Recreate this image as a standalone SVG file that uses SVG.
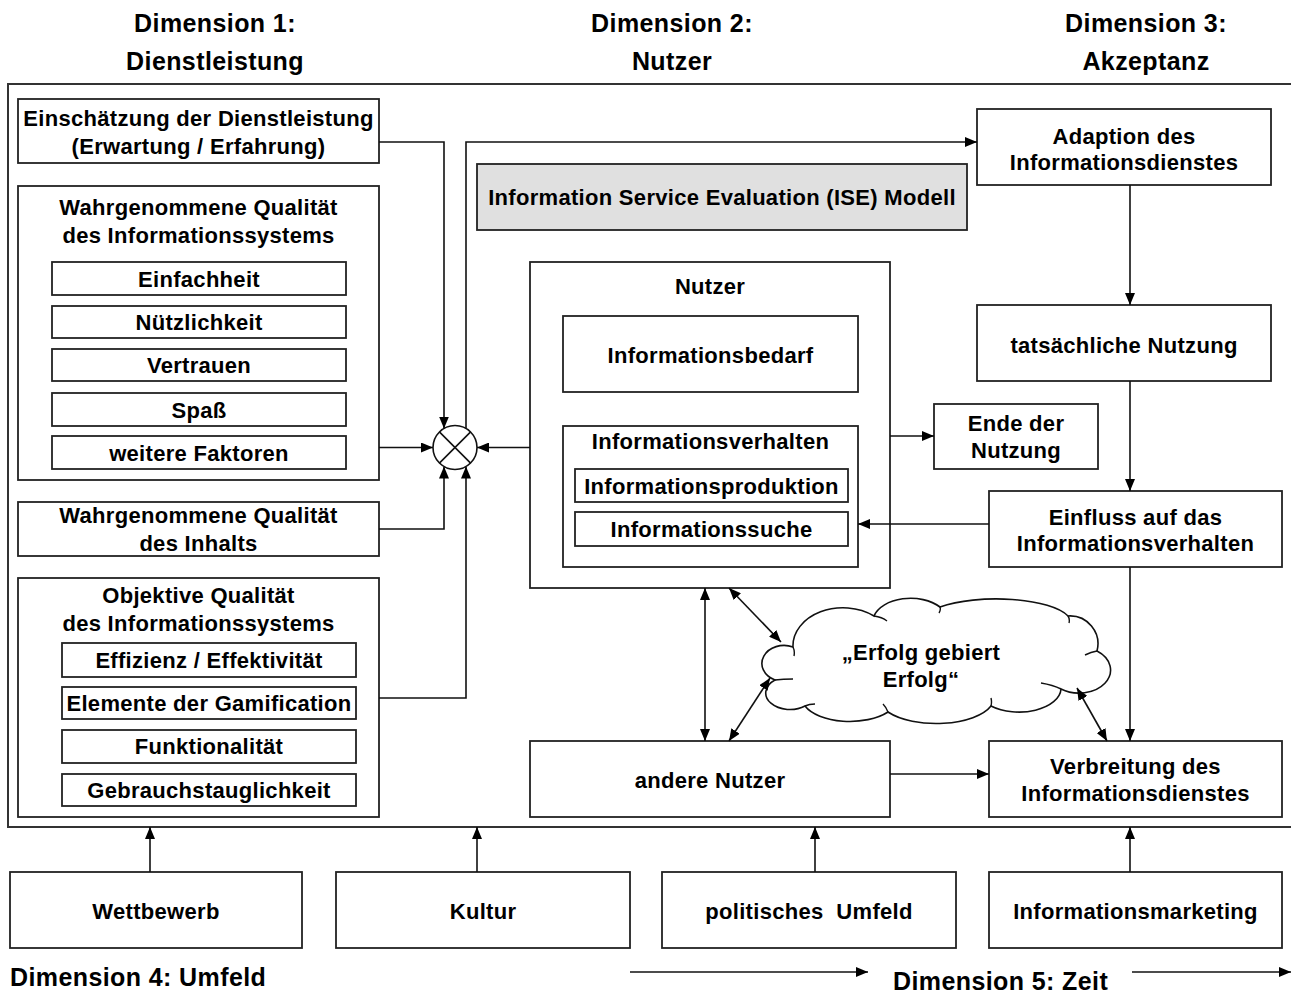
<svg xmlns="http://www.w3.org/2000/svg" width="1291" height="996" viewBox="0 0 1291 996">
<defs>
<style>
.box{fill:#fff;stroke:#222;stroke-width:1.8}
.gray{fill:#e0e0e0;stroke:#222;stroke-width:1.8}
.frame{fill:none;stroke:#333;stroke-width:2}
.t{font-family:"Liberation Sans",Arial,sans-serif;font-weight:bold;font-size:22px;letter-spacing:0.3px;text-anchor:middle;fill:#000}
.h{font-family:"Liberation Sans",Arial,sans-serif;font-weight:bold;font-size:25px;letter-spacing:0.4px;text-anchor:middle;fill:#000}
.s{text-anchor:start}
.c{fill:none;stroke:#111;stroke-width:1.6}
.a{marker-end:url(#ah)}
.d{marker-start:url(#ah);marker-end:url(#ah)}
</style>
<marker id="ah" viewBox="0 0 12 10" refX="12" refY="5" markerWidth="12" markerHeight="10" markerUnits="userSpaceOnUse" orient="auto-start-reverse">
<path d="M0,0 L12,5 L0,10 z" fill="#000"/>
</marker>
</defs>
<rect width="1291" height="996" fill="#fff"/>

<g id="headers">
<text class="h" x="215" y="32">Dimension 1:</text>
<text class="h" x="215" y="70">Dienstleistung</text>
<text class="h" x="672" y="32">Dimension 2:</text>
<text class="h" x="672" y="70">Nutzer</text>
<text class="h" x="1146" y="32">Dimension 3:</text>
<text class="h" x="1146" y="70">Akzeptanz</text>
<text class="h s" x="10" y="986">Dimension 4: Umfeld</text>
<text class="h s" x="893" y="990">Dimension 5: Zeit</text>
</g>

<rect id="frame" class="frame" x="8" y="84" width="1300" height="743"/>

<g id="einschaetzung">
<rect class="box" x="18" y="99" width="361" height="64"/>
<text class="t" x="198.5" y="126">Einschätzung der Dienstleistung</text>
<text class="t" x="198.5" y="154">(Erwartung / Erfahrung)</text>
</g>

<g id="wq-is">
<rect class="box" x="18" y="186" width="361" height="294"/>
<text class="t" x="198.5" y="215">Wahrgenommene Qualität</text>
<text class="t" x="198.5" y="243">des Informationssystems</text>
<rect class="box" x="52" y="262" width="294" height="33"/>
<text class="t" x="199" y="286.5">Einfachheit</text>
<rect class="box" x="52" y="306" width="294" height="32"/>
<text class="t" x="199" y="330">Nützlichkeit</text>
<rect class="box" x="52" y="349" width="294" height="32"/>
<text class="t" x="199" y="373">Vertrauen</text>
<rect class="box" x="52" y="393" width="294" height="33"/>
<text class="t" x="199" y="417.5">Spaß</text>
<rect class="box" x="52" y="436" width="294" height="33"/>
<text class="t" x="199" y="460.5">weitere Faktoren</text>
</g>

<g id="wq-inhalt">
<rect class="box" x="18" y="502" width="361" height="54"/>
<text class="t" x="198.5" y="522.5">Wahrgenommene Qualität</text>
<text class="t" x="198.5" y="550.5">des Inhalts</text>
</g>

<g id="oq-is">
<rect class="box" x="18" y="578" width="361" height="239"/>
<text class="t" x="198.5" y="602.5">Objektive Qualität</text>
<text class="t" x="198.5" y="630.5">des Informationssystems</text>
<rect class="box" x="62" y="643" width="294" height="34"/>
<text class="t" x="209" y="667.5">Effizienz / Effektivität</text>
<rect class="box" x="62" y="687" width="294" height="32"/>
<text class="t" x="209" y="711">Elemente der Gamification</text>
<rect class="box" x="62" y="730" width="294" height="33"/>
<text class="t" x="209" y="754">Funktionalität</text>
<rect class="box" x="62" y="774" width="294" height="32"/>
<text class="t" x="209" y="797.5">Gebrauchstauglichkeit</text>
</g>

<g id="kombination">
<circle cx="455" cy="447.5" r="22" fill="#fff" stroke="#111" stroke-width="1.6"/>
<path d="M439.4,431.9 L470.6,463.1 M470.6,431.9 L439.4,463.1" stroke="#111" stroke-width="1.6"/>
</g>

<g id="ise">
<rect class="gray" x="477" y="164" width="490" height="66"/>
<text class="t" x="722" y="205">Information Service Evaluation (ISE) Modell</text>
</g>

<g id="nutzer">
<rect class="box" x="530" y="262" width="360" height="326"/>
<text class="t" x="710" y="294">Nutzer</text>
<rect class="box" x="563" y="316" width="295" height="76"/>
<text class="t" x="710.5" y="363">Informationsbedarf</text>
<rect class="box" x="563" y="426" width="295" height="141"/>
<text class="t" x="710.5" y="449">Informationsverhalten</text>
<rect class="box" x="575" y="469" width="273" height="33"/>
<text class="t" x="711.5" y="493.5">Informationsproduktion</text>
<rect class="box" x="575" y="512" width="273" height="34"/>
<text class="t" x="711.5" y="537">Informationssuche</text>
</g>

<g id="andere-nutzer">
<rect class="box" x="530" y="741" width="360" height="76"/>
<text class="t" x="710" y="787.5">andere Nutzer</text>
</g>

<g id="erfolg">
<path d="M793,647 A50,38 0 0 1 874,616 A38,24 0 0 1 940,607 A75,24 0 0 1 1068,616 A28,28 0 0 1 1097,651 A30,22 0 0 1 1061,689 A42,24 0 0 1 991,706 A58,26 0 0 1 888,712 A48,24 0 0 1 805,706 A22,15 0 0 1 775,680 A22,18 0 0 1 793,647 Z" fill="#fff" stroke="#111" stroke-width="1.6"/>
<path d="M793,647 q2,4 1,9 M874,616 q8,1 13,5 M940,607 q1,3 -1,6 M1068,616 q2,3 1,7 M1097,651 q-6,1 -12,4 M1061,689 q-8,-4 -20,-6 M991,706 q1,-4 0,-8 M888,712 q-2,-5 -5,-8 M805,706 q4,-2 10,-2 M775,680 q8,-1 18,-1" fill="none" stroke="#111" stroke-width="1.4"/>
<text class="t" x="921" y="660">„Erfolg gebiert</text>
<text class="t" x="921" y="687">Erfolg“</text>
</g>

<g id="ende">
<rect class="box" x="934" y="404" width="164" height="65"/>
<text class="t" x="1016" y="431">Ende der</text>
<text class="t" x="1016" y="457.5">Nutzung</text>
</g>

<g id="adaption">
<rect class="box" x="977" y="109" width="294" height="76"/>
<text class="t" x="1124" y="143.5">Adaption des</text>
<text class="t" x="1124" y="169.5">Informationsdienstes</text>
</g>

<g id="nutzung">
<rect class="box" x="977" y="305" width="294" height="76"/>
<text class="t" x="1124" y="352.5">tatsächliche Nutzung</text>
</g>

<g id="einfluss">
<rect class="box" x="989" y="491" width="293" height="76"/>
<text class="t" x="1135.5" y="525">Einfluss auf das</text>
<text class="t" x="1135.5" y="551">Informationsverhalten</text>
</g>

<g id="verbreitung">
<rect class="box" x="989" y="741" width="293" height="76"/>
<text class="t" x="1135.5" y="773.5">Verbreitung des</text>
<text class="t" x="1135.5" y="800.5">Informationsdienstes</text>
</g>

<g id="wettbewerb">
<rect class="box" x="10" y="872" width="292" height="76"/>
<text class="t" x="156" y="919">Wettbewerb</text>
</g>
<g id="kultur">
<rect class="box" x="336" y="872" width="294" height="76"/>
<text class="t" x="483" y="919">Kultur</text>
</g>
<g id="politik">
<rect class="box" x="662" y="872" width="294" height="76"/>
<text class="t" x="809" y="919" xml:space="preserve">politisches  Umfeld</text>
</g>
<g id="marketing">
<rect class="box" x="989" y="872" width="293" height="76"/>
<text class="t" x="1135.5" y="919">Informationsmarketing</text>
</g>

<g id="connectors">
<path class="c a" d="M379,142 H444 V428.5"/>
<path class="c a" d="M466,428.5 V142 H977"/>
<path class="c a" d="M379,447.5 H433"/>
<path class="c a" d="M530,447.5 H477"/>
<path class="c a" d="M379,529 H444 V466.5"/>
<path class="c a" d="M379,698 H466 V466.5"/>
<path class="c a" d="M890,436 H934"/>
<path class="c a" d="M1130,185 V305"/>
<path class="c a" d="M1130,381 V491"/>
<path class="c a" d="M989,524 H858"/>
<path class="c a" d="M1130,567 V741"/>
<path class="c a" d="M890,774 H989"/>
<path class="c d" d="M705,588 V741"/>
<path class="c d" d="M729,588 L781,642"/>
<path class="c d" d="M729,741 L770,678"/>
<path class="c d" d="M1077,688 L1107,741"/>
<path class="c a" d="M150,872 V827"/>
<path class="c a" d="M477,872 V827"/>
<path class="c a" d="M815,872 V827"/>
<path class="c a" d="M1130,872 V827"/>
<path class="c a" d="M630,972 H868"/>
<path class="c a" d="M1132,972 H1291"/>
</g>
</svg>
